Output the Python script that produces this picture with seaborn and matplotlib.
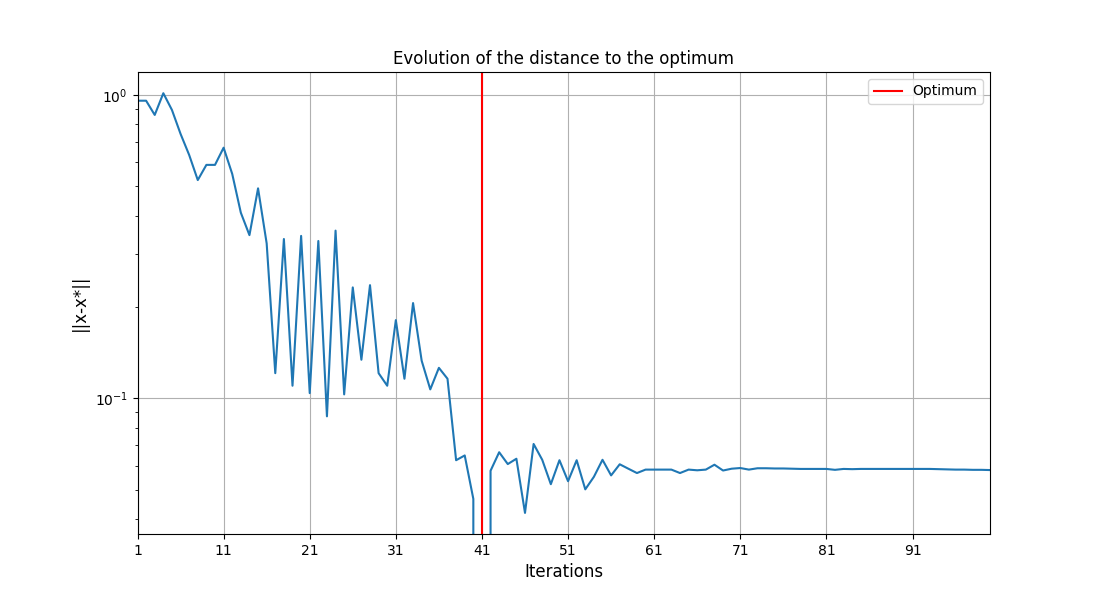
import numpy as np
import pandas as pd
import seaborn as sns
import matplotlib
matplotlib.use('Agg')
import matplotlib.pyplot as plt

# distance to the optimum, iterations 1..100
iterations = list(range(1, 101))
distance = [
    0.957, 0.957, 0.859, 1.013, 0.892, 0.744, 0.634, 0.524, 0.588, 0.588,
    0.670, 0.549, 0.409, 0.345, 0.492, 0.324, 0.121, 0.335, 0.110, 0.343,
    0.104, 0.330, 0.0872, 0.357, 0.103, 0.232, 0.134, 0.236, 0.121, 0.110,
    0.181, 0.116, 0.206, 0.133, 0.107, 0.126, 0.116, 0.0625, 0.0648, 0.0466,
    0.0, 0.0577, 0.0664, 0.0607, 0.0632, 0.0419, 0.0707, 0.0627, 0.0521, 0.0625,
    0.0533, 0.0625, 0.0501, 0.0551, 0.0627, 0.0557, 0.0606, 0.0586, 0.0567, 0.0582,
    0.0582, 0.0582, 0.0582, 0.0567, 0.0582, 0.0579, 0.0582, 0.0604, 0.0578, 0.0586,
    0.0589, 0.0582, 0.0588, 0.0588, 0.0587, 0.0587, 0.0586, 0.0585, 0.0585, 0.0585,
    0.0585, 0.0581, 0.0585, 0.0584, 0.0585, 0.0585, 0.0585, 0.0585, 0.0585, 0.0585,
    0.0585, 0.0585, 0.0585, 0.0584, 0.0583, 0.0582, 0.0582, 0.0581, 0.0581, 0.0580,
]
optimum_iter = 41
xtick_vals = list(range(1, 100, 10))

data = pd.DataFrame({'Iterations': iterations, 'distance': distance})

fig, ax = plt.subplots(figsize=(11, 6), dpi=100)

sns.lineplot(data=data, x='Iterations', y='distance', ax=ax, color='C0', legend=False)
ax.axvline(optimum_iter, color='red', label='Optimum')

ax.set_yscale('log')
ax.set_ylim(0.0357, 1.19)
ax.set_xlim(1, 100)
ax.set_xticks(xtick_vals)

ax.set_title('Evolution of the distance to the optimum')
ax.set_xlabel('Iterations', fontsize=12)
ax.set_ylabel('||x-x*||', fontsize=12)
ax.grid(True)
ax.legend(loc='upper right')

plt.savefig('out.png')
